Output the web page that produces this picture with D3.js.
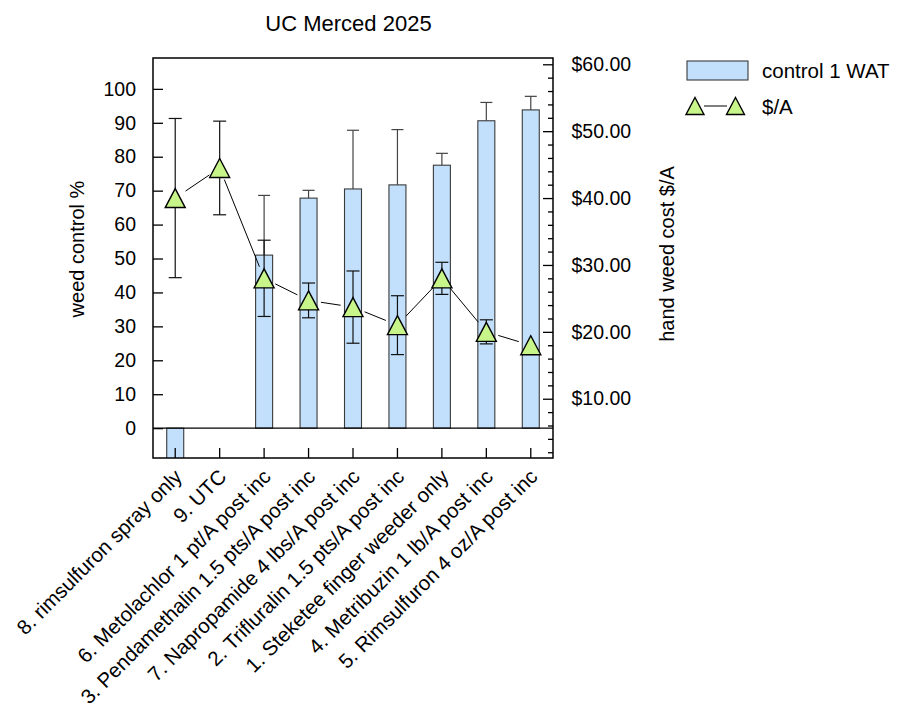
<!DOCTYPE html>
<html>
<head>
<meta charset="utf-8">
<script src="https://cdn.jsdelivr.net/npm/d3@7"></script>
<style>
  html, body { margin: 0; padding: 0; background: #fff; }
  text { font-family: "Liberation Sans", Arial, Helvetica, sans-serif; fill: #000; }
</style>
</head>
<body>
<svg id="chart" width="908" height="709"></svg>
<script>
const categories = [
  "8. rimsulfuron spray only",
  "9. UTC",
  "6. Metolachlor 1 pt/A post inc",
  "3. Pendamethalin 1.5 pts/A post inc",
  "7. Napropamide 4 lbs/A post inc",
  "2. Trifluralin 1.5 pts/A post inc",
  "1. Steketee finger weeder only",
  "4. Metribuzin 1 lb/A post inc",
  "5. Rimsulfuron 4 oz/A post inc"
];
const control = [-10, 0, 51.0, 67.8, 70.5, 71.7, 77.5, 90.6, 93.8];
const controlErr = [0, 0, 17.6, 2.3, 17.3, 16.3, 3.5, 5.4, 4.0];
const cost = [40.0, 44.5, 28.0, 24.7, 23.7, 21.0, 28.0, 20.0, 18.0];
const costErr = [11.9, 7.0, 5.7, 2.6, 5.4, 4.4, 2.4, 1.8, 0];
const leftTicks = [0, 10, 20, 30, 40, 50, 60, 70, 80, 90, 100];
const rightMajorTicks = [10, 20, 30, 40, 50, 60];
const rightMinorTicks = d3.range(2, 61, 2);
const title = "UC Merced 2025";
const leftLabel = "weed control %";
const rightLabel = "hand weed cost $/A";
const legendBar = "control 1 WAT";
const legendLine = "$/A";

const L = 153, R = 553, T = 58, B = 458;
const svg = d3.select("#chart");
const fsTick = 19.5, fsLab = 20, fsX = 20.5, fsLeg = 20.5;

const x = d3.scaleBand().domain(categories).range([L, R]).padding(0);
const yL = d3.scaleLinear().domain([-8.8, 109.1]).range([B, T]);
const yR = d3.scaleLinear().domain([1.14, 60.94]).range([B, T]);
const cx = d => x(d) + x.bandwidth() / 2;
const barW = 17;

svg.append("defs").append("clipPath").attr("id", "plotclip")
  .append("rect").attr("x", L).attr("y", T).attr("width", R - L).attr("height", B - T);

const plot = svg.append("g").attr("clip-path", "url(#plotclip)");

// bar error (upper half)
categories.forEach((c, i) => {
  if (controlErr[i] > 0) {
    const xc = cx(c), y1 = yL(control[i]), y2 = yL(control[i] + controlErr[i]);
    plot.append("line").attr("x1", xc).attr("x2", xc).attr("y1", y1).attr("y2", y2)
      .attr("stroke", "#444").attr("stroke-width", 1.2);
    plot.append("line").attr("x1", xc - 6).attr("x2", xc + 6).attr("y1", y2).attr("y2", y2)
      .attr("stroke", "#444").attr("stroke-width", 1.2);
  }
});

// bars
plot.selectAll("rect.bar").data(categories).enter()
  .filter((d, i) => control[i] !== 0)
  .append("rect").attr("class", "bar")
  .attr("x", d => cx(d) - barW / 2)
  .attr("width", barW)
  .attr("y", d => yL(Math.max(0, control[categories.indexOf(d)])))
  .attr("height", d => Math.abs(yL(control[categories.indexOf(d)]) - yL(0)))
  .attr("fill", "#c2e0fc")
  .attr("stroke", "#3a3a3a")
  .attr("stroke-width", 1.1);

// zero line
plot.append("line").attr("x1", L).attr("x2", R).attr("y1", yL(0)).attr("y2", yL(0))
  .attr("stroke", "#000").attr("stroke-width", 1.3);

// line segments with gaps near markers
const pts = categories.map((c, i) => [cx(c), yR(cost[i])]);
const gap = 12.5;
for (let i = 0; i < pts.length - 1; i++) {
  const [x1, y1] = pts[i], [x2, y2] = pts[i + 1];
  const dx = x2 - x1, dy = y2 - y1, len = Math.hypot(dx, dy);
  const ux = dx / len, uy = dy / len;
  plot.append("line")
    .attr("x1", x1 + ux * gap).attr("y1", y1 + uy * gap)
    .attr("x2", x2 - ux * gap).attr("y2", y2 - uy * gap)
    .attr("stroke", "#000").attr("stroke-width", 1);
}

// cost error bars
categories.forEach((c, i) => {
  if (costErr[i] > 0) {
    const xc = cx(c), ya = yR(cost[i] - costErr[i]), yb = yR(cost[i] + costErr[i]);
    const col = "#111";
    plot.append("line").attr("x1", xc).attr("x2", xc).attr("y1", ya).attr("y2", yb)
      .attr("stroke", col).attr("stroke-width", 1.2);
    [ya, yb].forEach(yy => plot.append("line").attr("x1", xc - 6.5).attr("x2", xc + 6.5)
      .attr("y1", yy).attr("y2", yy).attr("stroke", col).attr("stroke-width", 1.2));
  }
});

// triangles
const tri = (w, h) => `M0,${-h / 2}L${w / 2},${h / 2}L${-w / 2},${h / 2}Z`;
plot.selectAll("path.tri").data(categories).enter().append("path")
  .attr("class", "tri")
  .attr("d", tri(20, 19))
  .attr("transform", (d, i) => `translate(${cx(d)},${yR(cost[i])})`)
  .attr("fill", "#c8f58a")
  .attr("stroke", "#000")
  .attr("stroke-width", 1.4)
  .attr("stroke-linejoin", "miter");

// axes (ticks inward)
const axL = svg.append("g").attr("transform", `translate(${L},0)`)
  .call(d3.axisRight(yL).tickValues(leftTicks).tickSize(10).tickFormat(""));
const axLText = svg.append("g").attr("transform", `translate(${L},0)`)
  .call(d3.axisLeft(yL).tickValues(leftTicks).tickSize(0).tickPadding(17).tickFormat(d3.format("d")));
axLText.selectAll("text").style("font-size", fsTick + "px");
axLText.select(".domain").remove();

svg.append("g").attr("transform", `translate(${R},0)`)
  .call(d3.axisLeft(yR).tickValues(rightMinorTicks.filter(v => v % 10 !== 0)).tickSize(5).tickFormat(""))
  .select(".domain").remove();
svg.append("g").attr("transform", `translate(${R},0)`)
  .call(d3.axisLeft(yR).tickValues(rightMajorTicks).tickSize(10).tickFormat(""))
  .select(".domain").remove();
const axRText = svg.append("g").attr("transform", `translate(${R},0)`)
  .call(d3.axisRight(yR).tickValues(rightMajorTicks).tickSize(0).tickPadding(18.5)
    .tickFormat(d => "$" + d3.format(".2f")(d)));
axRText.selectAll("text").style("font-size", fsTick + "px");
axRText.select(".domain").remove();

svg.append("g").attr("transform", `translate(0,${B})`)
  .call(d3.axisTop(x).tickSize(10).tickFormat(""))
  .select(".domain").remove();

svg.selectAll(".tick line").attr("stroke", "#000").attr("stroke-width", 1.3);
axL.select(".domain").remove();

// frame
svg.append("rect").attr("x", L).attr("y", T).attr("width", R - L).attr("height", B - T)
  .attr("fill", "none").attr("stroke", "#000").attr("stroke-width", 1.5);

// x labels
svg.append("g").selectAll("text").data(categories).enter().append("text")
  .attr("transform", d => `translate(${cx(d) + 8},${B + 20}) rotate(-45)`)
  .attr("text-anchor", "end")
  .style("font-size", fsX + "px")
  .text(d => d);

// title
svg.append("text").attr("x", 348.5).attr("y", 31).attr("text-anchor", "middle")
  .style("font-size", "22px").text(title);

// axis titles
svg.append("text").attr("transform", `translate(84,249) rotate(-90)`)
  .attr("text-anchor", "middle").style("font-size", fsLab + "px").text(leftLabel);
svg.append("text").attr("transform", `translate(674,254) rotate(-90)`)
  .attr("text-anchor", "middle").style("font-size", fsLab + "px").text(rightLabel);

// legend
const lg = svg.append("g");
lg.append("rect").attr("x", 687).attr("y", 61).attr("width", 61).attr("height", 19)
  .attr("fill", "#c2e0fc").attr("stroke", "#3a3a3a").attr("stroke-width", 1.1);
lg.append("text").attr("x", 762).attr("y", 77.5).style("font-size", fsLeg + "px").text(legendBar);
lg.append("line").attr("x1", 704).attr("x2", 727).attr("y1", 106).attr("y2", 106)
  .attr("stroke", "#000").attr("stroke-width", 1);
[695, 735.5].forEach(px => lg.append("path").attr("d", tri(18, 17))
  .attr("transform", `translate(${px},106)`)
  .attr("fill", "#c8f58a").attr("stroke", "#000").attr("stroke-width", 1.4));
lg.append("text").attr("x", 762).attr("y", 113.5).style("font-size", fsLeg + "px").text(legendLine);
</script>
</body>
</html>
